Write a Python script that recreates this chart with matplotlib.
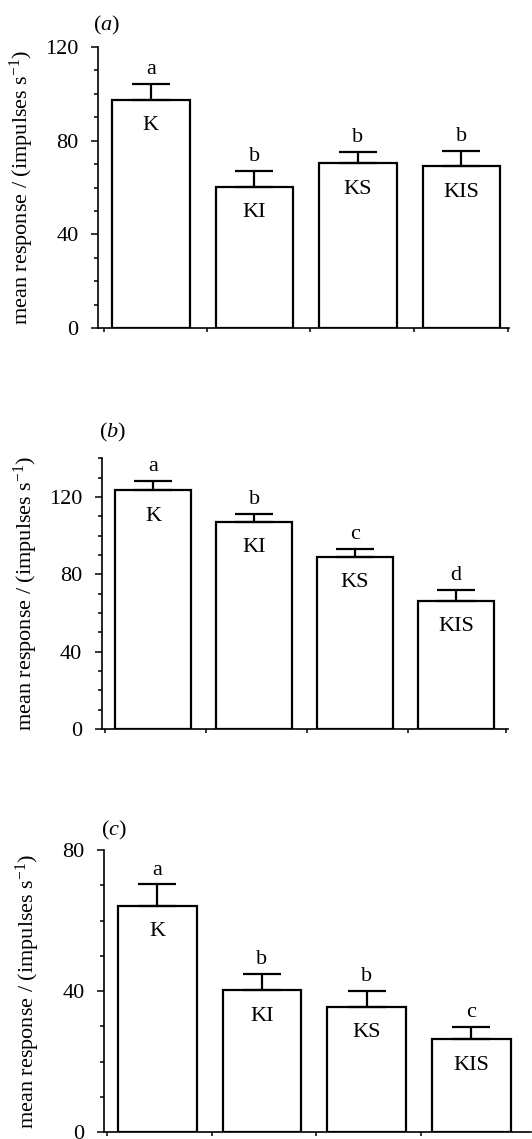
import matplotlib
matplotlib.use('Agg')
import matplotlib.pyplot as plt
import numpy as np
from matplotlib.ticker import MultipleLocator, FixedLocator, NullFormatter

plt.rcParams['font.family'] = ['Liberation Serif', 'DejaVu Serif']
plt.rcParams['mathtext.fontset'] = 'custom'
plt.rcParams['mathtext.rm'] = 'Liberation Serif'
plt.rcParams['mathtext.it'] = 'Liberation Serif:italic'

# data
treatments = ['K', 'KI', 'KS', 'KIS']

mean_a = [97.4, 60.4, 70.4, 69.2]
sem_a = [7.0, 6.8, 4.9, 6.4]
letters_a = ['a', 'b', 'b', 'b']

mean_b = [123.4, 107.1, 89.1, 66.3]
sem_b = [4.8, 4.0, 3.9, 5.8]
letters_b = ['a', 'b', 'c', 'd']

mean_c = [64.2, 40.3, 35.6, 26.3]
sem_c = [6.1, 4.5, 4.5, 3.6]
letters_c = ['a', 'b', 'b', 'c']

W, H = 532, 1139
fig = plt.figure(figsize=(W / 100, H / 100), dpi=100)


def px_axes(l, r, t, b):
    return fig.add_axes([l / W, 1 - b / H, (r - l) / W, (b - t) / H])


def panel(ax, means, sems, letters, ytop, xright, xticks):
    x = np.arange(1, len(treatments) + 1)
    ax.bar(x, means, width=0.75, color='white', edgecolor='black',
           linewidth=1.6, zorder=2)
    ax.errorbar(x, means, yerr=[np.zeros(len(sems)), sems], fmt='none',
                ecolor='black', elinewidth=1.6, capsize=14, capthick=1.6,
                zorder=3)
    for xi, m, s, let, name in zip(x, means, sems, letters, treatments):
        ax.annotate(let, (xi, m + s), xytext=(0, 7), textcoords='offset points',
                    ha='center', va='baseline', fontsize=16)
        ax.annotate(name, (xi, m), xytext=(0, -22), textcoords='offset points',
                    ha='center', va='baseline', fontsize=16)
    ax.set_xlim(0.49, xright)
    ax.set_ylim(0, ytop)
    ax.xaxis.set_major_locator(FixedLocator(xticks))
    ax.xaxis.set_major_formatter(NullFormatter())
    ax.yaxis.set_major_locator(MultipleLocator(40))
    ax.yaxis.set_minor_locator(MultipleLocator(10))
    for s in ['top', 'right']:
        ax.spines[s].set_visible(False)
    for s in ['left', 'bottom']:
        ax.spines[s].set_linewidth(1.2)
    ax.tick_params(axis='y', which='major', length=5, width=1.1, pad=9, labelsize=16)
    ax.tick_params(axis='y', which='minor', length=3, width=1.1)
    ax.tick_params(axis='x', which='major', length=3, width=1.1)
    ax.set_ylabel(r'mean response / (impulses s$^{-1}$)', fontsize=16)
    ax.yaxis.set_label_coords(-62 / (ax.get_position().width * W), 0.5)


ax_a = px_axes(98, 509, 47, 328)
panel(ax_a, mean_a, sem_a, letters_a, 120, 4.46, [0.55, 1.54, 2.54, 3.54, 4.45])
ax_b = px_axes(101.7, 507.5, 458.3, 729)
panel(ax_b, mean_b, sem_b, letters_b, 140, 4.51, [0.52, 1.52, 2.52, 3.52, 4.5])
ax_c = px_axes(104, 531, 850, 1132.3)
panel(ax_c, mean_c, sem_c, letters_c, 80, 4.57, [0.52, 1.52, 2.52, 3.52])

fig.text(107 / W, 1 - 25 / H, r'($a$)', ha='center', va='center', fontsize=16)
fig.text(113 / W, 1 - 432 / H, r'($b$)', ha='center', va='center', fontsize=16)
fig.text(114 / W, 1 - 830 / H, r'($c$)', ha='center', va='center', fontsize=16)

fig.savefig('out.png', dpi=100)
